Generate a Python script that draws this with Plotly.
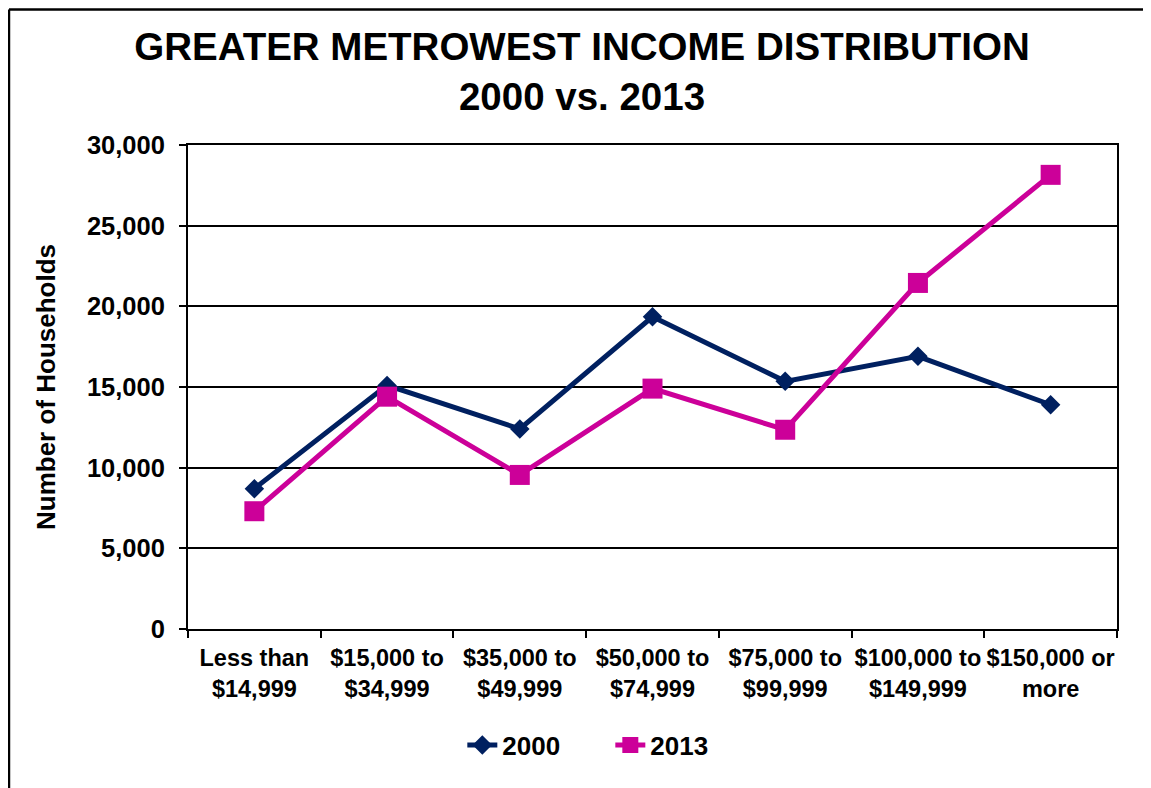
import plotly.graph_objects as go

categories = ['Less than<br>$14,999', '$15,000 to<br>$34,999', '$35,000 to<br>$49,999',
              '$50,000 to<br>$74,999', '$75,000 to<br>$99,999', '$100,000 to<br>$149,999',
              '$150,000 or<br>more']
households_2000 = [8700, 15100, 12400, 19350, 15350, 16900, 13900]
households_2013 = [7300, 14400, 9550, 14900, 12350, 21450, 28150]

navy = '#002060'
magenta = '#CC0099'
font_family = 'Arial, Liberation Sans, sans-serif'

fig = go.Figure()
fig.add_trace(go.Scatter(
    name='2000', x=categories, y=households_2000, mode='lines+markers',
    line=dict(color=navy, width=5),
    marker=dict(symbol='diamond', size=15, color=navy),
))
fig.add_trace(go.Scatter(
    name='2013', x=categories, y=households_2013, mode='lines+markers',
    line=dict(color=magenta, width=5),
    marker=dict(symbol='square', size=20, color=magenta),
))

# outer chart frame (only left and top edges visible in the source)
fig.add_shape(type='line', xref='paper', yref='paper', x0=-0.1927, x1=-0.1927, y0=-0.34, y1=1.28,
              line=dict(color='black', width=2.5))
fig.add_shape(type='line', xref='paper', yref='paper', x0=-0.1927, x1=1.05, y0=1.28, y1=1.28,
              line=dict(color='black', width=2.5))

fig.update_layout(
    width=1143, height=780,
    margin=dict(l=180, r=34, t=137, b=159, autoexpand=False),
    paper_bgcolor='white', plot_bgcolor='white',
    font=dict(family=font_family, color='black', weight='bold'),
    title=dict(
        text='GREATER METROWEST INCOME DISTRIBUTION<br>2000 vs. 2013',
        x=0.5022, xanchor='center', xref='container',
        y=0.9333, yanchor='top', yref='container',
        font=dict(size=38.5, family=font_family, weight='bold', color='black'),
    ),
    showlegend=True,
    legend=dict(
        orientation='h', x=0.4546, xanchor='center', y=-0.2397, yanchor='middle',
        font=dict(size=26, family=font_family, weight='bold'),
        entrywidth=103, traceorder='normal',
    ),
)
fig.update_xaxes(
    type='category', range=[-0.5, 6.5], tickson='boundaries', tickangle=0, automargin=False,
    ticks='outside', ticklen=7, tickwidth=1.5, tickcolor='black',
    showline=True, linecolor='black', linewidth=2, mirror=True,
    showgrid=False, ticklabelstandoff=7,
    tickfont=dict(size=23.5, family=font_family, weight='bold'),
)
fig.update_yaxes(
    range=[0, 30000], dtick=5000, tickformat=',d', automargin=False,
    ticks='outside', ticklen=7, tickwidth=1.5, tickcolor='black',
    showline=True, linecolor='black', linewidth=2, mirror=True,
    showgrid=True, gridcolor='black', gridwidth=1.5, zeroline=False,
    ticklabelstandoff=9,
    tickfont=dict(size=25.5, family=font_family, weight='bold'),
    title=dict(text='Number of Households', standoff=24,
               font=dict(size=26, family=font_family, weight='bold')),
)

fig.write_html('out.html')
